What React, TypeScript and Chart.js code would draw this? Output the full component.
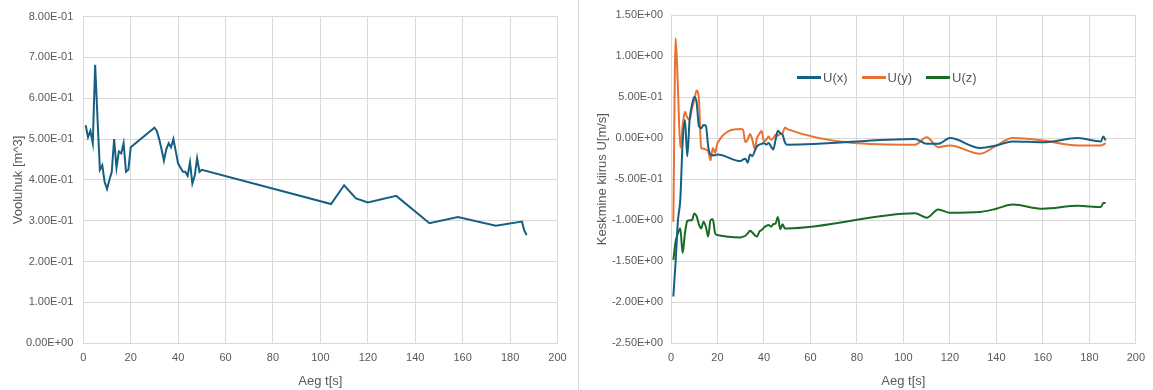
import React, { useEffect, useRef } from "react";
import { Chart, registerables } from "chart.js";

Chart.register(...registerables);

// ---------- data ----------
const volTime = [1, 2, 3, 4, 5, 6, 7, 8, 9, 10, 11, 12, 13, 14, 15, 16, 17, 18, 19, 20,
  30, 31, 32, 33, 34, 35, 36, 37, 38, 39, 40, 41, 42, 43, 44, 45, 46, 47, 48, 49, 50,
  104.5, 110, 115, 120, 132, 146, 158, 174, 185, 186, 187];
const volValue = [0.534, 0.505, 0.52, 0.49, 0.682, 0.55, 0.425, 0.436, 0.395, 0.378, 0.40, 0.42, 0.50, 0.43, 0.47, 0.465, 0.49, 0.42, 0.425, 0.48,
  0.528, 0.52, 0.50, 0.475, 0.447, 0.475, 0.49, 0.48, 0.50, 0.47, 0.44, 0.43, 0.42, 0.42, 0.41, 0.443, 0.391, 0.41, 0.453, 0.42, 0.425,
  0.341, 0.387, 0.355, 0.345, 0.361, 0.294, 0.309, 0.288, 0.298, 0.276, 0.265];

const velTime = [1, 2, 3, 4, 5, 6, 7, 8, 9, 10, 11, 12, 13, 14, 15, 16, 17, 18, 19, 20,
  30, 31, 32, 33, 34, 35, 36, 37, 38, 39, 40, 41, 42, 43, 44, 45, 46, 47, 48, 49, 50,
  105, 110, 115, 120, 133, 140, 147, 160, 175, 185, 186, 187];
const velUx = [-1.93, -1.5, -1.0, -0.75, -0.06, 0.22, -0.22, 0.22, 0.4, 0.5, 0.44, 0.15, 0.12, 0.16, 0.15, -0.1, -0.2, -0.21, -0.21, -0.2,
  -0.28, -0.26, -0.25, -0.3, -0.2, -0.22, -0.16, -0.1, -0.08, -0.07, -0.06, -0.08, -0.06, -0.1, -0.14, -0.02, 0.09, 0.06, 0.04, -0.05, -0.08,
  -0.01, -0.07, -0.07, 0.0, -0.12, -0.09, -0.04, -0.05, 0.0, -0.04, 0.02, -0.03];
const velUy = [-1.02, 1.22, 0.6, -0.12, 0.15, 0.32, 0.25, 0.22, 0.36, 0.46, 0.58, 0.48, -0.12, -0.13, -0.14, -0.16, -0.27, -0.12, -0.18, -0.06,
  0.11, 0.1, -0.05, -0.02, 0.05, -0.02, -0.13, 0.0, 0.05, 0.09, -0.04, -0.02, 0.02, -0.02, 0.0, 0.04, 0.03, 0.05, 0.06, 0.13, 0.11,
  -0.08, 0.01, -0.11, -0.09, -0.19, -0.09, 0.0, -0.03, -0.09, -0.09, -0.08, -0.06];
const velUz = [-1.485, -1.26, -1.16, -1.1, -1.4, -1.16, -1.01, -1.0, -1.0, -0.92, -0.95, -1.05, -1.1, -1.02, -1.08, -1.2, -1.0, -0.99, -1.16, -1.18,
  -1.21, -1.2, -1.19, -1.16, -1.13, -1.15, -1.18, -1.2, -1.14, -1.12, -1.09, -1.07, -1.06, -1.08, -1.05, -1.04, -0.96, -1.11, -1.05, -1.1, -1.1,
  -0.915, -0.97, -0.87, -0.91, -0.9, -0.86, -0.81, -0.86, -0.825, -0.84, -0.79, -0.79];

const seriesNames = ["U(x)", "U(y)", "U(z)"];
const seriesColors = ["#156082", "#E97132", "#196B24"];

const xMin = 0, xMax = 200, xStep = 20;
const volMin = 0, volMax = 0.8, volStep = 0.1;
const velMin = -2.5, velMax = 1.5, velStep = 0.5;

const xTitle = "Aeg t[s]";
const volTitle = "Vooluhuk [m^3]";
const velTitle = "Keskmine kiirus U[m/s]";

// ---------- helpers ----------
const FONT = "'Liberation Sans', Arial, sans-serif";
const GRAY = "#595959";
const GRID = "#d9d9d9";

function sci(v: number): string {
  if (Math.abs(v) < 1e-9) return "0.00E+00";
  const e = Math.floor(Math.log10(Math.abs(v)) + 1e-9);
  const m = v / Math.pow(10, e);
  return `${m.toFixed(2)}E${e < 0 ? "-" : "+"}${String(Math.abs(e)).padStart(2, "0")}`;
}

function makeOptions(p: {
  yMin: number; yMax: number; yStep: number; yTitle: string;
  yWidth: number; rightPad: number; titlePadTop: number; tickPad: number;
}): any {
  return {
    responsive: false,
    animation: false,
    layout: { padding: { top: 15, right: p.rightPad, left: 0, bottom: 0 } },
    plugins: { legend: { display: false }, tooltip: { enabled: false } },
    elements: { point: { radius: 0 } },
    scales: {
      x: {
        type: "linear",
        min: xMin, max: xMax,
        ticks: { stepSize: xStep, color: GRAY, font: { family: FONT, size: 11 }, padding: 8 },
        grid: { color: GRID, lineWidth: 1, drawTicks: false },
        border: { color: GRID },
        title: { display: true, text: xTitle, color: GRAY, font: { family: FONT, size: 13 }, padding: { top: 0, bottom: 1 } },
        afterFit: (s: any) => { s.height = 390 - 343.3 - 15 + 15; },
      },
      y: {
        type: "linear",
        min: p.yMin, max: p.yMax,
        ticks: { stepSize: p.yStep, color: GRAY, font: { family: FONT, size: 11 }, padding: p.tickPad, callback: (v: number) => sci(v) },
        grid: { color: GRID, lineWidth: 1, drawTicks: false },
        border: { color: GRID },
        title: { display: true, text: p.yTitle, color: GRAY, font: { family: FONT, size: 13 }, padding: { top: p.titlePadTop, bottom: 0 } },
        afterFit: (s: any) => { s.width = p.yWidth; },
      },
    },
  };
}

function ChartCanvas({ config, width, height }: { config: any; width: number; height: number }) {
  const ref = useRef<HTMLCanvasElement | null>(null);
  useEffect(() => {
    if (!ref.current) return;
    const chart = new Chart(ref.current, config);
    return () => chart.destroy();
  }, []);
  return <canvas ref={ref} width={width} height={height} style={{ display: "block" }} />;
}

export default function App() {
  const volConfig = {
    type: "line",
    data: {
      datasets: [{
        label: "Vooluhuk",
        data: volTime.map((t, i) => ({ x: t, y: volValue[i] })),
        borderColor: seriesColors[0],
        borderWidth: 2,
        tension: 0,
        fill: false,
      }],
    },
    options: makeOptions({ yMin: volMin, yMax: volMax, yStep: volStep, yTitle: volTitle, yWidth: 83.3, rightPad: 20.5, titlePadTop: 10.7, tickPad: 10 }),
  };

  const velSeries = [velUx, velUy, velUz];
  const velConfig = {
    type: "line",
    data: {
      datasets: velSeries.map((vals, k) => ({
        label: seriesNames[k],
        data: velTime.map((t, i) => ({ x: t, y: vals[i] })),
        borderColor: seriesColors[k],
        borderWidth: 2,
        cubicInterpolationMode: "monotone",
        fill: false,
      })),
    },
    options: makeOptions({ yMin: velMin, yMax: velMax, yStep: velStep, yTitle: velTitle, yWidth: 93, rightPad: 15, titlePadTop: 16.7, tickPad: 8 }),
  };

  return (
    <div style={{ position: "absolute", left: 0, top: 0, width: 1153, height: 390, background: "#fff", overflow: "hidden" }}>
      <div style={{ position: "absolute", left: 0, top: 0, width: 578, height: 390 }}>
        <ChartCanvas config={volConfig} width={578} height={390} />
      </div>
      <div style={{ position: "absolute", left: 578, top: 0, width: 1, height: 390, background: GRID }} />
      <div style={{ position: "absolute", left: 578, top: 0, width: 575, height: 390 }}>
        <ChartCanvas config={velConfig} width={575} height={390} />
        <div style={{ position: "absolute", left: 219, top: 70, display: "flex", alignItems: "center", fontFamily: FONT, fontSize: 13, color: GRAY, whiteSpace: "nowrap" }}>
          {seriesNames.map((n, k) => (
            <div key={n} style={{ display: "flex", alignItems: "center", marginRight: 14 }}>
              <span style={{ display: "inline-block", width: 24, height: 2.5, background: seriesColors[k], marginRight: 2 }} />
              <span>{n}</span>
            </div>
          ))}
        </div>
      </div>
    </div>
  );
}
